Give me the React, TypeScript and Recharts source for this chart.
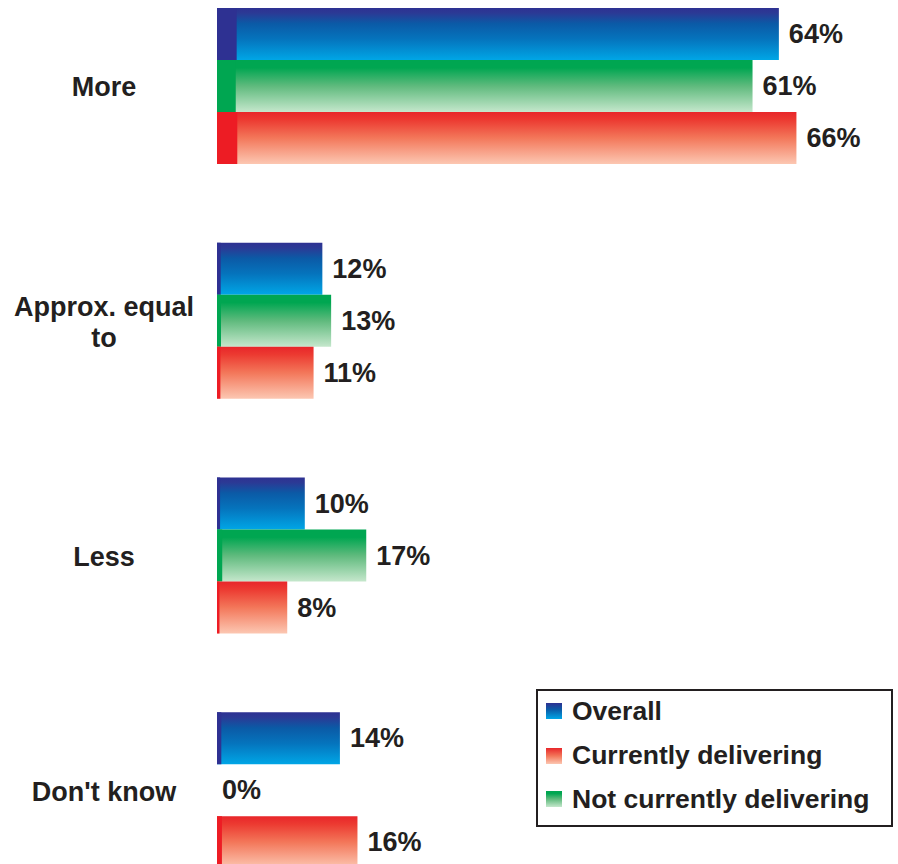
import { Bar, BarChart, LabelList, Legend, XAxis, YAxis } from "recharts";

const categories = ["More", "Approx. equal to", "Less", "Don't know"];
const overall = [64, 12, 10, 14];
const notCurrentlyDelivering = [61, 13, 17, 0];
const currentlyDelivering = [66, 11, 8, 16];

const data = categories.map((name, i) => ({
  name,
  overall: overall[i],
  notCurrently: notCurrentlyDelivering[i],
  currently: currentlyDelivering[i],
}));

const FONT = '"Liberation Sans", Arial, Helvetica, sans-serif';
const INK = "#231f20";

// top-to-bottom order of the bars inside each group
const SERIES = [
  { key: "overall", name: "Overall", grad: "gradOverall", edge: "#2e3192" },
  { key: "notCurrently", name: "Not currently delivering", grad: "gradNot", edge: "#00a651" },
  { key: "currently", name: "Currently delivering", grad: "gradCurrent", edge: "#ed1c24" },
];

const LEGEND_ORDER = [
  { name: "Overall", css: "linear-gradient(#2e3192, #0b5aa6 40%, #00a6e6)" },
  { name: "Currently delivering", css: "linear-gradient(#e8262a, #f3775a 50%, #fcc7b2)" },
  { name: "Not currently delivering", css: "linear-gradient(#00a651 15%, #5fba7d 50%, #c5e7cc)" },
];

function GradientBar(props: any) {
  const { x, y, width, height, fill, edge } = props;
  if (!width || width <= 0) return null;
  const strip = Math.max(1.5, width * 0.035);
  return (
    <g>
      <rect x={x} y={y} width={width} height={height} fill={fill} />
      <rect x={x} y={y} width={strip} height={height} fill={edge} />
    </g>
  );
}

function ValueLabel(props: any) {
  const x = Number(props.x);
  const y = Number(props.y);
  const w = Number(props.width) || 0;
  const h = Number(props.height);
  const gap = w > 0 ? 10 : 5;
  return (
    <text
      x={x + w + gap}
      y={y + h / 2}
      dominantBaseline="central"
      fontFamily={FONT}
      fontSize={27}
      fontWeight={700}
      fill={INK}
    >
      {props.value}%
    </text>
  );
}

function CategoryTick(props: any) {
  const { y, payload } = props;
  const text: string = payload.value;
  let lines = [text];
  if (text.length > 12) {
    const cut = text.lastIndexOf(" ");
    lines = [text.slice(0, cut), text.slice(cut + 1)];
  }
  const lineH = 31;
  const start = -((lines.length - 1) * lineH) / 2;
  return (
    <text
      x={104}
      y={y}
      textAnchor="middle"
      fontFamily={FONT}
      fontSize={27}
      fontWeight={700}
      fill={INK}
    >
      {lines.map((l, i) => (
        <tspan key={l} x={104} y={y + 1 + start + i * lineH} dominantBaseline="central">
          {l}
        </tspan>
      ))}
    </text>
  );
}

function LegendBox() {
  const rows = [22, 66.5, 110];
  return (
    <div
      style={{
        position: "relative",
        width: 357,
        height: 138,
        boxSizing: "border-box",
        border: `2px solid ${INK}`,
        background: "#fff",
        fontFamily: FONT,
        fontWeight: 700,
        fontSize: 26.5,
        color: INK,
      }}
    >
      {LEGEND_ORDER.map((item, i) => (
        <div
          key={item.name}
          style={{
            position: "absolute",
            left: 8,
            top: rows[i] - 2 - 16,
            height: 32,
            display: "flex",
            alignItems: "center",
            whiteSpace: "nowrap",
          }}
        >
          <span style={{ width: 16, height: 16, background: item.css, marginRight: 10 }} />
          <span>{item.name}</span>
        </div>
      ))}
    </div>
  );
}

export default function App() {
  return (
    <div
      style={{
        position: "absolute",
        left: 0,
        top: 0,
        width: 898,
        height: 864,
        overflow: "hidden",
        background: "#fff",
      }}
    >
      <div style={{ position: "absolute", left: 0, top: -31 }}>
        <BarChart
          width={898}
          height={939}
          data={data}
          layout="vertical"
          margin={{ top: 0, right: 5, bottom: 0, left: 0 }}
          barSize={52}
          barGap={0}
        >
          <defs>
            <linearGradient id="gradOverall" x1="0" y1="0" x2="0" y2="1">
              <stop offset="0" stopColor="#2e3192" />
              <stop offset="0.1" stopColor="#2b3a95" />
              <stop offset="0.3" stopColor="#0b5aa6" />
              <stop offset="0.6" stopColor="#0574bd" />
              <stop offset="1" stopColor="#00a6e6" />
            </linearGradient>
            <linearGradient id="gradNot" x1="0" y1="0" x2="0" y2="1">
              <stop offset="0" stopColor="#00a651" />
              <stop offset="0.15" stopColor="#00a651" />
              <stop offset="0.5" stopColor="#5fba7d" />
              <stop offset="1" stopColor="#c5e7cc" />
            </linearGradient>
            <linearGradient id="gradCurrent" x1="0" y1="0" x2="0" y2="1">
              <stop offset="0" stopColor="#e8262a" />
              <stop offset="0.15" stopColor="#ec3a31" />
              <stop offset="0.5" stopColor="#f3775a" />
              <stop offset="1" stopColor="#fcc7b2" />
            </linearGradient>
          </defs>
          <XAxis type="number" domain={[0, 77]} hide />
          <YAxis
            type="category"
            dataKey="name"
            width={217}
            axisLine={false}
            tickLine={false}
            tick={<CategoryTick />}
            interval={0}
          />
          {SERIES.map((s) => (
            <Bar
              key={s.key}
              dataKey={s.key}
              name={s.name}
              fill={`url(#${s.grad})`}
              isAnimationActive={false}
              shape={(p: any) => <GradientBar {...p} edge={s.edge} />}
            >
              <LabelList dataKey={s.key} content={<ValueLabel />} />
            </Bar>
          ))}
          <Legend
            layout="vertical"
            align="center"
            verticalAlign="middle"
            wrapperStyle={{ left: 536, top: 720, width: 357 }}
            content={() => <LegendBox />}
          />
        </BarChart>
      </div>
    </div>
  );
}
